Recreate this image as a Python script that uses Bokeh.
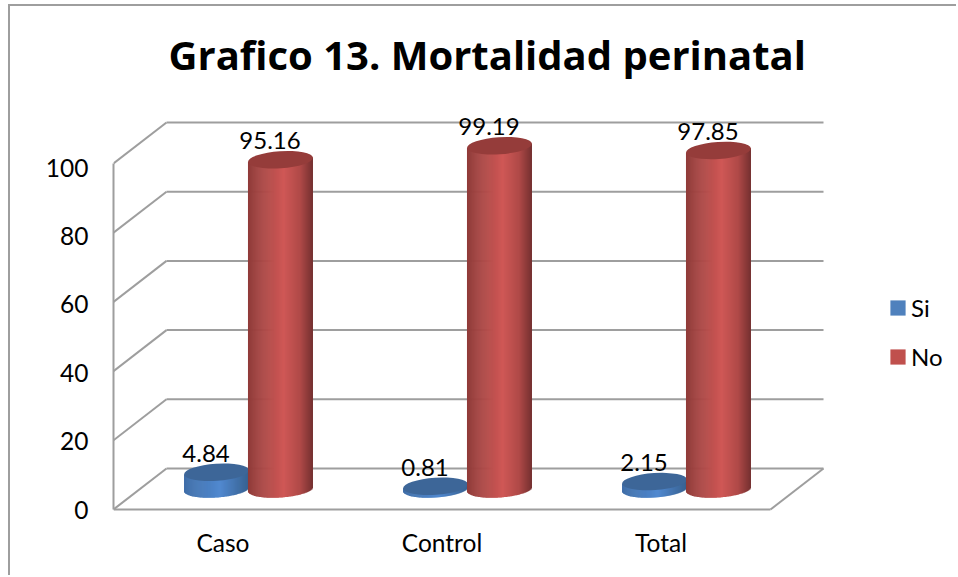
from bokeh.embed import file_html
from bokeh.resources import INLINE
from bokeh.plotting import figure
from bokeh.models import LinearAxis, FixedTicker, Legend, LegendItem, Range1d, Title
from bokeh.core.properties import value

categories = ["Caso", "Control", "Total"]
si_values = [4.84, 0.81, 2.15]
no_values = [95.16, 99.19, 97.85]
series_names = ["Si", "No"]
y_ticks = [0, 20, 40, 60, 80, 100]
title_text = "Grafico 13. Mortalidad perinatal"

FONT = "Lato"
PX_X = 219.0    # pixels per category
PX_Y = 3.46     # pixels per value unit
LEFT, BOTTOM, TOP = 113, 509, 82
FRAME_BOTTOM = 515
FIG_X, FIG_Y = 10, 6
W, H = 948, 571
WALL_DX, WALL_DY = 53 / PX_X, 41 / PX_Y
BAR_DX, BAR_DY = (WALL_DX / 2) - 1 / PX_X, WALL_DY / 2
BAR_OFF, BAR_W = 0.146, 65 / PX_X
SEMI_H = 8.5 / PX_Y
TILT = 2.2 / PX_Y
GRID = "#9e9e9e"
LABEL_PX_Y, LABEL_ZERO = 3.42, 509   # the value labels sit on a slightly tighter scale

BLUE_STOPS = [(0.0, "#3c6ba6"), (0.55, "#5189d0"), (1.0, "#37608f")]
RED_STOPS = [(0.0, "#8f3b39"), (0.55, "#d05856"), (0.8, "#b04a48"), (1.0, "#743030")]
BLUE_TOP, RED_TOP = "#3d6698", "#953c3a"
BLUE_SW, RED_SW = "#4f81bd", "#c0504d"

y_start = -(FRAME_BOTTOM - BOTTOM) / PX_Y
y_end = (BOTTOM - TOP) / PX_Y
p = figure(width=W, height=H, output_backend="svg", toolbar_location=None,
           x_range=Range1d(0, (FIG_X + W - LEFT) / PX_X),
           y_range=Range1d(y_start, y_end),
           extra_y_ranges={"labels": Range1d((LABEL_ZERO - FRAME_BOTTOM) / LABEL_PX_Y,
                                             (LABEL_ZERO - TOP) / LABEL_PX_Y)},
           min_border_left=LEFT - FIG_X, min_border_right=0,
           min_border_top=TOP - FIG_Y, min_border_bottom=FIG_Y + H - FRAME_BOTTOM,
           x_axis_type=None, y_axis_type=None, outline_line_color=None)
p.grid.visible = False
p.styles = {"margin": "4px 0 0 8px",
            "border-top": "2px solid #9e9e9e", "border-left": "2px solid #9e9e9e"}

p.add_layout(Title(text=title_text, text_font="Open Sans", text_font_size="40px",
                   text_font_style="bold", text_color="black", align="left",
                   offset=168 - LEFT, standoff=2), "above")

yline = LinearAxis(ticker=FixedTicker(ticks=[], minor_ticks=[]), bounds=(0, 100))
yax = LinearAxis(ticker=FixedTicker(ticks=y_ticks, minor_ticks=[]), y_range_name="labels",
                 axis_line_color=None)
xax = LinearAxis(ticker=FixedTicker(ticks=[i + 0.5 for i in range(len(categories))], minor_ticks=[]),
                 axis_line_color=None,
                 major_label_overrides={i + 0.5: c for i, c in enumerate(categories)})
for ax in (xax, yax, yline):
    ax.major_tick_line_color = None
    ax.minor_tick_line_color = None
    ax.major_label_text_font = FONT
    ax.major_label_text_font_size = "24.5px"
    ax.major_label_text_color = "black"
yline.axis_line_color = GRID
yline.axis_line_width = 2
yax.major_label_standoff = 19
xax.major_label_standoff = 6
p.add_layout(yline, "left")
p.add_layout(yax, "left")
p.add_layout(xax, "below")

# 3D walls and floor from the value ticks
n = len(categories)
p.segment(x0=[WALL_DX] * len(y_ticks), x1=[n + WALL_DX] * len(y_ticks),
          y0=[t + WALL_DY for t in y_ticks], y1=[t + WALL_DY for t in y_ticks],
          line_color=GRID, line_width=2)
p.segment(x0=[0] * len(y_ticks), x1=[WALL_DX] * len(y_ticks),
          y0=y_ticks, y1=[t + WALL_DY for t in y_ticks], line_color=GRID, line_width=2)
p.segment(x0=[n, 0], x1=[n + WALL_DX, n], y0=[0, 0], y1=[WALL_DY, 0], line_color=GRID, line_width=2)


def mix(stops, t):
    for (t0, c0), (t1, c1) in zip(stops, stops[1:]):
        if t <= t1:
            f = (t - t0) / (t1 - t0)
            a = [int(c0[i:i + 2], 16) for i in (1, 3, 5)]
            b = [int(c1[i:i + 2], 16) for i in (1, 3, 5)]
            return "#%02x%02x%02x" % tuple(round(x + (y - x) * f) for x, y in zip(a, b))
    return stops[-1][1]


def cylinders(values, side, stops, top_color):
    N = 64
    sw = BAR_W / N
    L, R, T, B, C = [], [], [], [], []
    ex, ey = [], []
    for i, v in enumerate(values):
        cx = i + 0.5 + side * BAR_OFF + BAR_DX
        for k in range(N):
            u = (k + 0.5) / N
            s = 2 * u - 1
            L.append(cx - BAR_W / 2 + k * sw)
            R.append(cx - BAR_W / 2 + (k + 1.6) * sw if k < N - 1 else cx + BAR_W / 2)
            T.append(BAR_DY + v + TILT * s)
            B.append(BAR_DY + TILT * s - SEMI_H * (1 - s * s) ** 0.5)
            C.append(mix(stops, u))
        ex.append(cx)
        ey.append(BAR_DY + v)
    p.quad(left=L, right=R, top=T, bottom=B, fill_color=C, line_color=None)
    p.ellipse(x=ex, y=ey, width=BAR_W, height=2 * SEMI_H, angle=0.068,
              fill_color=top_color, line_color=None)
    return ex, ey


sx, sy = cylinders(si_values, -1, BLUE_STOPS, BLUE_TOP)
nx, ny = cylinders(no_values, 1, RED_STOPS, RED_TOP)

for xs, ys, vals in ((sx, sy, si_values), (nx, ny, no_values)):
    p.text(x=xs, y=ys, text=["%.2f" % v for v in vals], x_offset=-10.5, y_offset=-19,
           text_align="center", text_baseline="middle", text_font=value(FONT),
           text_font_size="24px", text_color="black")

sw_si = p.quad(left=[0], right=[0], top=[0], bottom=[0], fill_color=BLUE_SW, line_color=None)
sw_no = p.quad(left=[0], right=[0], top=[0], bottom=[0], fill_color=RED_SW, line_color=None)
legend = Legend(items=[LegendItem(label=series_names[0], renderers=[sw_si]),
                       LegendItem(label=series_names[1], renderers=[sw_no])],
                location=(775, 144), orientation="vertical", border_line_color=None,
                background_fill_alpha=0, glyph_width=19, glyph_height=19, label_height=28,
                spacing=20, padding=0, margin=0, label_standoff=4,
                label_text_font=FONT, label_text_font_size="24px", label_text_color="black")
p.add_layout(legend, "center")

open("out.html", "w").write(file_html(p, INLINE))
